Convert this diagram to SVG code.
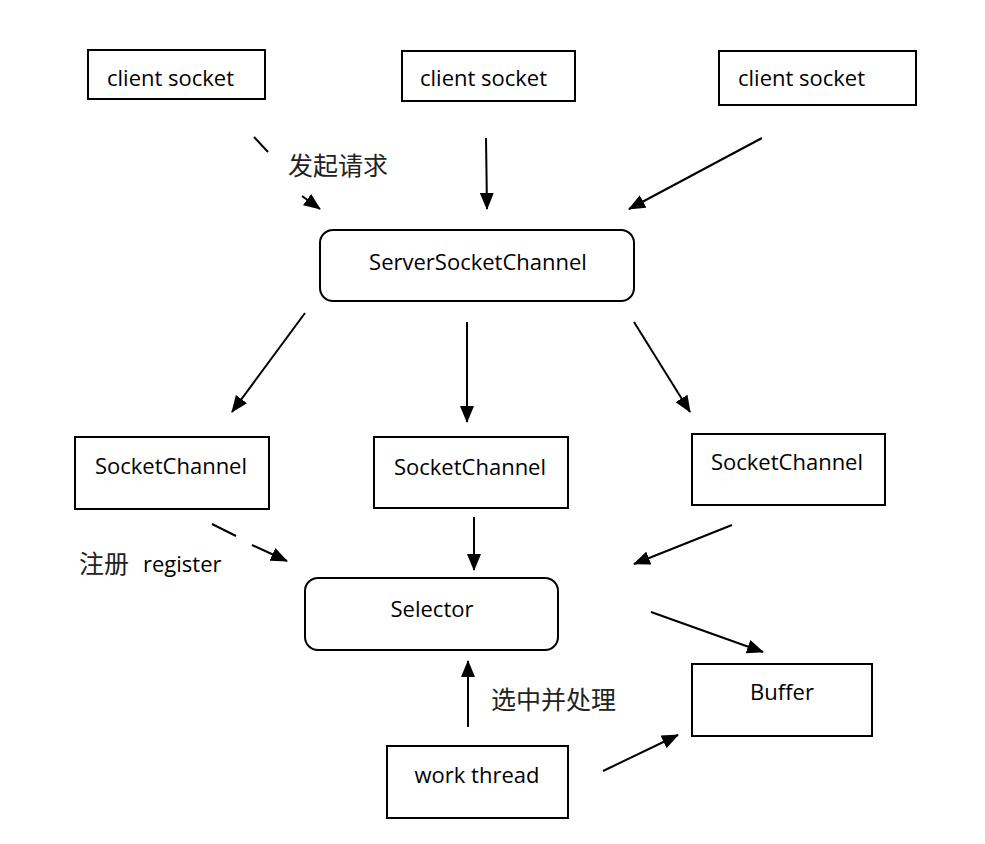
<svg xmlns="http://www.w3.org/2000/svg" width="985" height="844" viewBox="0 0 985 844">
<style>
.box{fill:#fff;stroke:#000;stroke-width:2}
.t{font-family:"Open Sans","Noto Sans","Liberation Sans",sans-serif;font-size:22px;fill:#000}
.c{font-family:"Noto Sans CJK SC","Noto Sans",sans-serif;font-size:25px;fill:#222}
.ln{stroke:#000;stroke-width:2;fill:none}
</style>
<defs>
<marker id="ah" markerUnits="userSpaceOnUse" markerWidth="18" markerHeight="14" refX="16" refY="7" orient="auto">
<path d="M0,0 L17,7 L0,14 z" fill="#000"/>
</marker>
</defs>
<rect width="985" height="844" fill="#fff"/>
<g id="client1"><rect class="box" x="88" y="50" width="177" height="49"/><text class="t" x="107" y="86">client socket</text></g>
<g id="client2"><rect class="box" x="402" y="51" width="173" height="50"/><text class="t" x="420" y="86">client socket</text></g>
<g id="client3"><rect class="box" x="719" y="51" width="197" height="54"/><text class="t" x="738" y="86">client socket</text></g>
<g id="server"><rect class="box" x="320" y="230" width="314" height="71" rx="13"/><text class="t" x="478" y="270" text-anchor="middle">ServerSocketChannel</text></g>
<g id="sc1"><rect class="box" x="75" y="437" width="194" height="72"/><text class="t" x="171" y="474" text-anchor="middle">SocketChannel</text></g>
<g id="sc2"><rect class="box" x="374" y="437" width="194" height="71"/><text class="t" x="470" y="475" text-anchor="middle">SocketChannel</text></g>
<g id="sc3"><rect class="box" x="692" y="434" width="193" height="71"/><text class="t" x="787" y="470" text-anchor="middle">SocketChannel</text></g>
<g id="selector"><rect class="box" x="305" y="578" width="253" height="72" rx="13"/><text class="t" x="432" y="617" text-anchor="middle">Selector</text></g>
<g id="buffer"><rect class="box" x="692" y="664" width="180" height="72"/><text class="t" x="782" y="700" text-anchor="middle">Buffer</text></g>
<g id="worker"><rect class="box" x="387" y="746" width="181" height="72"/><text class="t" x="477" y="783" text-anchor="middle">work thread</text></g>
<g id="labels">
<text class="c" x="288" y="175">发起请求</text>
<text class="c" x="79" y="573">注册</text>
<text class="t" x="143" y="572">register</text>
<text class="c" x="491" y="709">选中并处理</text>
</g>
<g id="connectors">
<line class="ln" x1="254" y1="137" x2="268" y2="152"/>
<line class="ln" x1="302" y1="196" x2="320" y2="209" marker-end="url(#ah)"/>
<line class="ln" x1="486" y1="138" x2="487" y2="209" marker-end="url(#ah)"/>
<line class="ln" x1="762" y1="138" x2="629" y2="209" marker-end="url(#ah)"/>
<line class="ln" x1="305" y1="313" x2="232" y2="412" marker-end="url(#ah)"/>
<line class="ln" x1="467" y1="322" x2="467" y2="422" marker-end="url(#ah)"/>
<line class="ln" x1="634" y1="322" x2="690" y2="412" marker-end="url(#ah)"/>
<line class="ln" x1="212" y1="524" x2="236" y2="536"/>
<line class="ln" x1="252" y1="545" x2="287" y2="561" marker-end="url(#ah)"/>
<line class="ln" x1="474" y1="517" x2="474" y2="570" marker-end="url(#ah)"/>
<line class="ln" x1="732" y1="525" x2="634" y2="564" marker-end="url(#ah)"/>
<line class="ln" x1="651" y1="612" x2="763" y2="652" marker-end="url(#ah)"/>
<line class="ln" x1="468" y1="727" x2="468" y2="661" marker-end="url(#ah)"/>
<line class="ln" x1="603" y1="771" x2="678" y2="735" marker-end="url(#ah)"/>
</g>
</svg>
